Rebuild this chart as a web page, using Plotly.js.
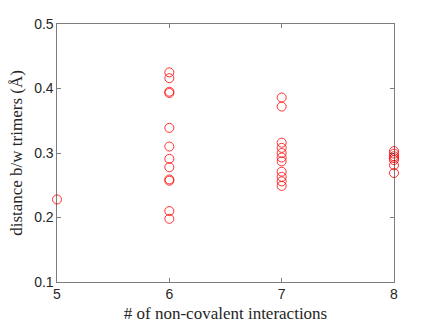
<!DOCTYPE html>
<html>
<head>
<meta charset="utf-8">
<script src="https://cdn.plot.ly/plotly-3.0.1.min.js"></script>
<style>
  html, body { margin: 0; padding: 0; background: #fff; }
  #plot { width: 436px; height: 327px; }
</style>
</head>
<body>
<div id="plot"></div>
<script>
// number of non-covalent interactions per structure
const nInteractions = [5,
  6, 6, 6, 6, 6, 6, 6, 6, 6, 6, 6, 6,
  7, 7, 7, 7, 7, 7, 7, 7, 7, 7, 7,
  8, 8, 8, 8, 8, 8, 8];

// distance between trimers (Angstrom)
const distance = [0.228,
  0.425, 0.416, 0.395, 0.393, 0.339, 0.310, 0.291, 0.278, 0.259, 0.257, 0.210, 0.198,
  0.386, 0.372, 0.316, 0.308, 0.300, 0.293, 0.287, 0.271, 0.263, 0.256, 0.249,
  0.303, 0.299, 0.295, 0.292, 0.289, 0.281, 0.269];

const xTicks = [5, 6, 7, 8];
const yTicks = [0.1, 0.2, 0.3, 0.4, 0.5];

const trace = {
  x: nInteractions,
  y: distance,
  type: "scatter",
  mode: "markers",
  cliponaxis: false,
  marker: {symbol: "circle-open", size: 9, color: "#ff0000", line: {width: 0.8}}
};

const axisCommon = {
  showgrid: false,
  zeroline: false,
  showline: true,
  mirror: "ticks",
  linecolor: "#262626",
  linewidth: 0.6,
  ticks: "inside",
  ticklen: 4,
  tickcolor: "#262626",
  tickwidth: 0.6,
  tickfont: {family: "Liberation Sans, Arial, sans-serif", size: 14, color: "#262626"}
};

const titleFont = {family: "Liberation Serif, DejaVu Serif, serif", size: 17, color: "#262626"};

const layout = {
  width: 436,
  height: 327,
  margin: {l: 57, r: 42, t: 24, b: 45},
  paper_bgcolor: "#ffffff",
  plot_bgcolor: "#ffffff",
  showlegend: false,
  xaxis: Object.assign({}, axisCommon, {
    range: [5, 8],
    tickvals: xTicks,
    ticktext: xTicks.map(String),
    title: {text: "# of non-covalent interactions", standoff: 5, font: titleFont}
  }),
  yaxis: Object.assign({}, axisCommon, {
    range: [0.1, 0.5],
    tickvals: yTicks,
    ticktext: yTicks.map(v => v.toFixed(1)),
    title: {text: "distance b/w trimers (Å)", standoff: 6, font: titleFont}
  })
};

Plotly.newPlot("plot", [trace], layout, {displayModeBar: false, staticPlot: true});
</script>
</body>
</html>
